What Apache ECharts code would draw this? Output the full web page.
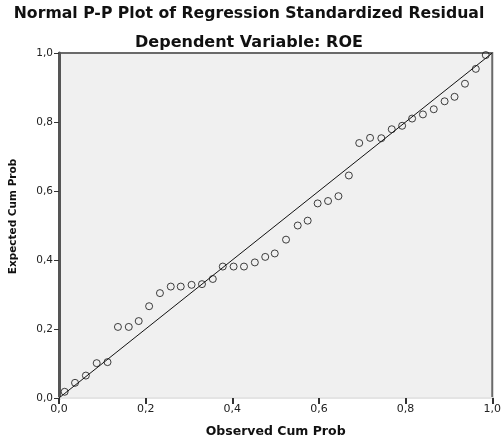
<!DOCTYPE html>
<html>
<head>
<meta charset="utf-8">
<script src="https://cdn.jsdelivr.net/npm/echarts@6/dist/echarts.min.js"></script>
<style>
  html, body { margin: 0; padding: 0; background: #fff; }
  #chart { width: 504px; height: 443px; }
</style>
</head>
<body>
<div id="chart"></div>
<script>
// observed cumulative probability (x) and expected cumulative probability (y)
const observedProb = [
  0.013, 0.037, 0.062, 0.087, 0.112, 0.136, 0.161, 0.184, 0.208, 0.233,
  0.258, 0.281, 0.306, 0.330, 0.355, 0.378, 0.403, 0.427, 0.452, 0.476,
  0.498, 0.524, 0.551, 0.574, 0.597, 0.621, 0.645, 0.669, 0.693, 0.718,
  0.744, 0.768, 0.792, 0.815, 0.840, 0.865, 0.890, 0.913, 0.937, 0.962,
  0.985
];
const expectedProb = [
  0.018, 0.044, 0.065, 0.101, 0.104, 0.206, 0.206, 0.223, 0.266, 0.304,
  0.323, 0.323, 0.328, 0.330, 0.345, 0.381, 0.381, 0.381, 0.393, 0.409,
  0.419, 0.459, 0.500, 0.514, 0.564, 0.571, 0.585, 0.645, 0.739, 0.754,
  0.753, 0.779, 0.789, 0.810, 0.822, 0.837, 0.860, 0.873, 0.911, 0.954,
  0.994
];
const refLine = [[0, 0], [1, 1]];

const points = observedProb.map((x, i) => [x, expectedProb[i]]);
const fmt = v => v.toFixed(1).replace('.', ',');

const chart = echarts.init(document.getElementById('chart'));

const option = {
  animation: false,
  title: [
    {
      text: 'Normal P-P Plot of Regression Standardized Residual',
      left: 244, top: 1, textAlign: 'center',
      textStyle: { fontFamily: 'DejaVu Sans', fontSize: 15.7, fontWeight: 'bold', color: '#111' }
    },
    {
      text: 'Dependent Variable: ROE',
      left: 244, top: 30, textAlign: 'center',
      textStyle: { fontFamily: 'DejaVu Sans', fontSize: 16, fontWeight: 'bold', color: '#111' }
    }
  ],
  grid: {
    left: 57, top: 53, right: 9, bottom: 41,
    show: true,
    backgroundColor: '#f0f0f0',
    borderColor: '#6a6a6a',
    borderWidth: 2
  },
  xAxis: {
    type: 'value', min: 0, max: 1, interval: 0.2,
    name: 'Observed Cum Prob',
    nameLocation: 'middle', nameGap: 27,
    nameTextStyle: { fontFamily: 'DejaVu Sans', fontSize: 12.5, fontWeight: 'bold', color: '#111' },
    axisLine: { show: true, lineStyle: { color: '#e4e4e4', width: 2 } },
    axisTick: { show: true, length: 6, lineStyle: { color: '#333', width: 2 } },
    axisLabel: { formatter: fmt, fontFamily: 'DejaVu Sans', fontSize: 11, color: '#222', margin: 6 },
    splitLine: { show: false }
  },
  yAxis: {
    type: 'value', min: 0, max: 1, interval: 0.2,
    name: 'Expected Cum Prob',
    nameLocation: 'middle', nameGap: 40, nameRotate: 90,
    nameTextStyle: { fontFamily: 'DejaVu Sans', fontSize: 10.5, fontWeight: 'bold', color: '#111', padding: [0, 0, 0, 18] },
    axisLine: { show: true, lineStyle: { color: '#555', width: 3 } },
    axisTick: { show: true, length: 5, lineStyle: { color: '#333', width: 1 } },
    axisLabel: { formatter: fmt, fontFamily: 'DejaVu Sans', fontSize: 10.5, color: '#222', margin: 6 },
    splitLine: { show: false }
  },
  series: [
    {
      type: 'line',
      data: refLine,
      showSymbol: false,
      symbol: 'none',
      lineStyle: { color: '#111', width: 1 },
      z: 2
    },
    {
      type: 'scatter',
      data: points,
      symbol: 'circle',
      symbolSize: 7,
      itemStyle: { color: 'rgba(0,0,0,0)', borderColor: '#111', borderWidth: 1 },
      z: 3
    }
  ]
};

chart.setOption(option);
</script>
</body>
</html>
